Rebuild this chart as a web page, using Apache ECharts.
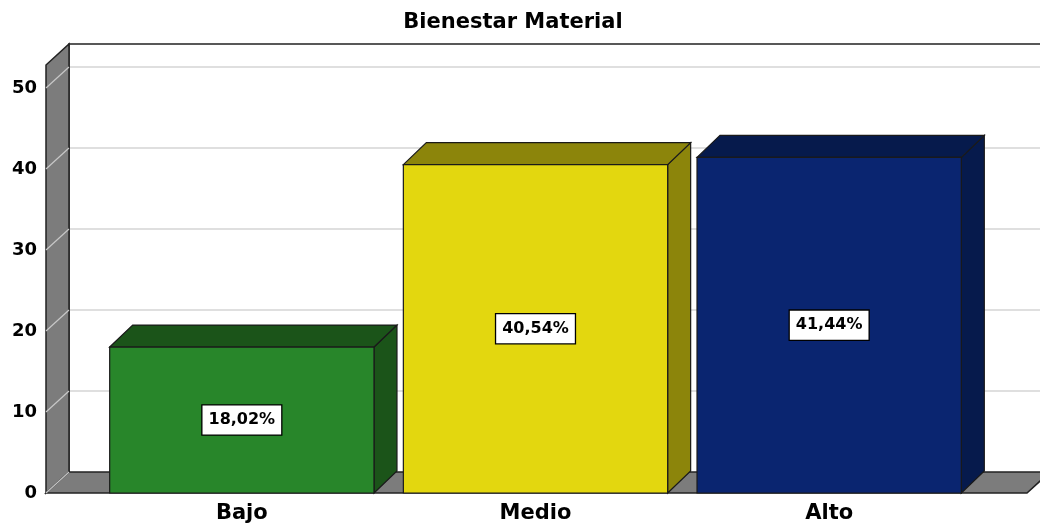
<!DOCTYPE html>
<html>
<head>
<meta charset="utf-8">
<script src="https://cdn.jsdelivr.net/npm/echarts@6/dist/echarts.min.js"></script>
<style>
  html, body { margin: 0; padding: 0; background: #fff; }
  #chart { width: 1040px; height: 526px; }
</style>
</head>
<body>
<div id="chart"></div>
<script>
// datos
const categories = ['Bajo', 'Medio', 'Alto'];
const percentages = [18.02, 40.54, 41.44];
const yTicks = [0, 10, 20, 30, 40, 50];

// colores: cara frontal / caras superior y lateral
const frontColors = ['#28862a', '#e3d70f', '#0a2570'];
const shadeColors = ['#1b5419', '#8c850b', '#061a4c'];

const FONT = '"DejaVu Sans", "Liberation Sans", Arial, sans-serif';
const DX = 23, DY = -21;      // profundidad de paredes
const BDX = 23, BDY = -22;    // profundidad de barras

const chart = echarts.init(document.getElementById('chart'));

// paredes, suelo y líneas de cuadrícula en 3D
function renderFrame(params, api) {
  const cs = params.coordSys;
  const fl = cs.x - 49;
  const fr = cs.x + cs.width + 51;
  const y0 = api.coord([0, 0])[1];
  const yTop = api.coord([0, yTicks[yTicks.length - 1]])[1] - 23;
  const children = [];
  // pared del fondo
  children.push({
    type: 'polygon',
    shape: { points: [[fl + DX, yTop + DY], [fr + DX + 20, yTop + DY], [fr + DX + 20, y0 + DY], [fl + DX, y0 + DY]] },
    style: { fill: '#ffffff' }
  });
  yTicks.forEach(v => {
    if (v === 0) return;
    const y = api.coord([0, v])[1];
    children.push({
      type: 'line',
      shape: { x1: fl + DX, y1: y + DY, x2: fr + DX + 20, y2: y + DY },
      style: { stroke: '#d4d4d4', lineWidth: 1.5 }
    });
  });
  children.push({
    type: 'polyline',
    shape: { points: [[fl + DX, y0 + DY], [fl + DX, yTop + DY], [fr + DX + 20, yTop + DY]] },
    style: { stroke: '#222', lineWidth: 1.5, fill: null }
  });
  // pared lateral
  children.push({
    type: 'polygon',
    shape: { points: [[fl, yTop], [fl + DX, yTop + DY], [fl + DX, y0 + DY], [fl, y0]] },
    style: { fill: '#7c7c7c', stroke: '#222', lineWidth: 1.5 }
  });
  yTicks.forEach(v => {
    const y = api.coord([0, v])[1];
    children.push({
      type: 'line',
      shape: { x1: fl, y1: y, x2: fl + DX, y2: y + DY },
      style: { stroke: '#c8c8c8', lineWidth: 1.2 }
    });
  });
  // suelo
  children.push({
    type: 'polygon',
    shape: { points: [[fl, y0], [fl + DX, y0 + DY], [fr + DX, y0 + DY], [fr, y0]] },
    style: { fill: '#7c7c7c', stroke: '#222', lineWidth: 1.5 }
  });
  children.push({
    type: 'line',
    shape: { x1: fl, y1: y0, x2: fl + DX, y2: y0 + DY },
    style: { stroke: '#c8c8c8', lineWidth: 1.2 }
  });
  return { type: 'group', children };
}

function renderBar(params, api) {
  const idx = api.value(0);
  const val = api.value(1);
  const base = api.coord([idx, 0]);
  const top = api.coord([idx, val]);
  const hw = api.size([1, 0])[0] * 0.9 / 2;
  const x = base[0];
  const yb = base[1], yt = top[1];
  const i = params.dataIndex;
  const edge = { stroke: '#1a1a1a', lineWidth: 1.2 };
  return {
    type: 'group',
    children: [
      {
        type: 'polygon',
        shape: { points: [[x + hw, yt], [x + hw + BDX, yt + BDY], [x + hw + BDX, yb + BDY], [x + hw, yb]] },
        style: Object.assign({ fill: shadeColors[i] }, edge)
      },
      {
        type: 'polygon',
        shape: { points: [[x - hw, yt], [x - hw + BDX, yt + BDY], [x + hw + BDX, yt + BDY], [x + hw, yt]] },
        style: Object.assign({ fill: shadeColors[i] }, edge)
      },
      {
        type: 'rect',
        shape: { x: x - hw, y: yt, width: hw * 2, height: yb - yt },
        style: Object.assign({ fill: frontColors[i] }, edge)
      },
      {
        type: 'text',
        x: x,
        y: (yt + yb) / 2,
        style: {
          text: val.toFixed(2).replace('.', ',') + '%',
          align: 'center',
          verticalAlign: 'middle',
          fontFamily: FONT,
          fontWeight: 'bold',
          fontSize: 16,
          fill: '#000',
          backgroundColor: '#ffffff',
          borderColor: '#000',
          borderWidth: 1.3,
          padding: [7, 6, 6, 6]
        }
      }
    ]
  };
}

chart.setOption({
  animation: false,
  title: {
    text: 'Bienestar Material',
    left: 508,
    textAlign: 'center',
    top: 7,
    textStyle: { fontFamily: FONT, fontWeight: 'bold', fontSize: 21, color: '#000' }
  },
  grid: { left: 95, right: 64, top: 88, bottom: 33 },
  xAxis: {
    type: 'category',
    data: categories,
    axisLine: { show: false },
    axisTick: { show: false },
    axisLabel: { margin: 10, color: '#000', fontFamily: FONT, fontWeight: 'bold', fontSize: 21 }
  },
  yAxis: {
    type: 'value',
    min: 0,
    max: 50,
    interval: 10,
    axisLine: { show: false },
    axisTick: { show: false },
    splitLine: { show: false },
    axisLabel: { margin: 58, color: '#000', fontFamily: FONT, fontWeight: 'bold', fontSize: 18 }
  },
  series: [
    {
      type: 'custom',
      z: 1,
      silent: true,
      renderItem: renderFrame,
      data: [[0, 0]]
    },
    {
      type: 'custom',
      z: 2,
      renderItem: renderBar,
      encode: { x: 0, y: 1 },
      data: categories.map((c, i) => [i, percentages[i]])
    }
  ]
});
</script>
</body>
</html>
